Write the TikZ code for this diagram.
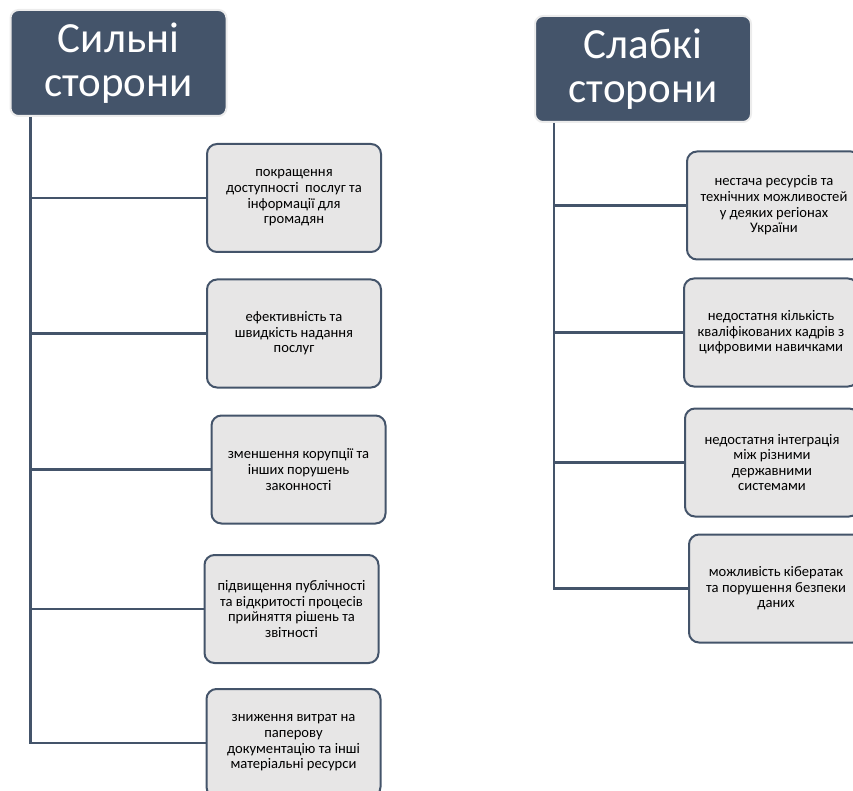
\documentclass[tikz,border=0pt]{standalone}
\usepackage{fontspec}
\setmainfont{Carlito}
\usetikzlibrary{positioning, calc}
\definecolor{slate}{HTML}{44546A}
\definecolor{boxgray}{HTML}{E7E6E6}
\tikzset{
  swot/.style={
	x=1pt, y=-1pt, % one unit is one pixel of the layout
	header/.style={rectangle, rounded corners=8pt, fill=slate, draw=gray!15, line width=2pt,
	  text=white, align=center, inner sep=0pt, minimum width=216pt, minimum height=106pt,
	  font=\fontsize{43}{44}\selectfont}, % the two dark title blocks
	item/.style={rectangle, rounded corners=10pt, fill=boxgray, draw=slate, line width=2pt,
	  align=center, inner sep=0pt, minimum width=174pt, minimum height=108pt,
	  font=\fontsize{14.6}{15.6}\selectfont}, % the grey boxes
	link/.style={draw=slate, line width=2.5pt}, % tree lines
  }
}

\begin{document}
\begin{tikzpicture}[swot]
\clip (0,0) rectangle (853,791);
\node[header] (sil) at (118.5,63) {Сильні\\сторони};
\node[header] (sla) at (643,69) {Слабкі\\сторони};
\coordinate (trunkL) at ([xshift=21pt]sil.south west);
\coordinate (trunkR) at ([xshift=20pt]sla.south west);

% strengths
\node[item] (s1) at (294,198) {покращення\\доступності\ \ послуг та\\інформації для\\громадян};
\node[item] (s2) at (294,333.5) {ефективність та\\швидкість надання\\послуг};
\node[item] (s3) at (298.5,469.5) {зменшення корупції та\\інших порушень\\законності};
\node[item] (s4) at (291.5,609) {підвищення публічності\\та відкритості процесів\\прийняття рішень та\\звітності};
\node[item] (s5) at (293.5,743) {зниження витрат на\\паперову\\документацію та інші\\матеріальні ресурси};

% weaknesses
\node[item] (w1) at (774,205.5) {нестача ресурсів та\\технічних можливостей\\у деяких регіонах\\України};
\node[item] (w2) at (771,332.5) {недостатня кількість\\кваліфікованих кадрів з\\цифровими навичками};
\node[item] (w3) at (772,462.5) {недостатня інтеграція\\між різними\\державними\\системами};
\node[item] (w4) at (776,588.5) {можливість кібератак\\та порушення безпеки\\даних};

\draw[link] (trunkL) |- (s5.west);
\foreach \n in {s1,s2,s3,s4}
  \draw[link] (trunkL |- \n.west) -- (\n.west);
\draw[link] (trunkR) |- (w4.west);
\foreach \n in {w1,w2,w3}
  \draw[link] (trunkR |- \n.west) -- (\n.west);
\end{tikzpicture}
\end{document}
